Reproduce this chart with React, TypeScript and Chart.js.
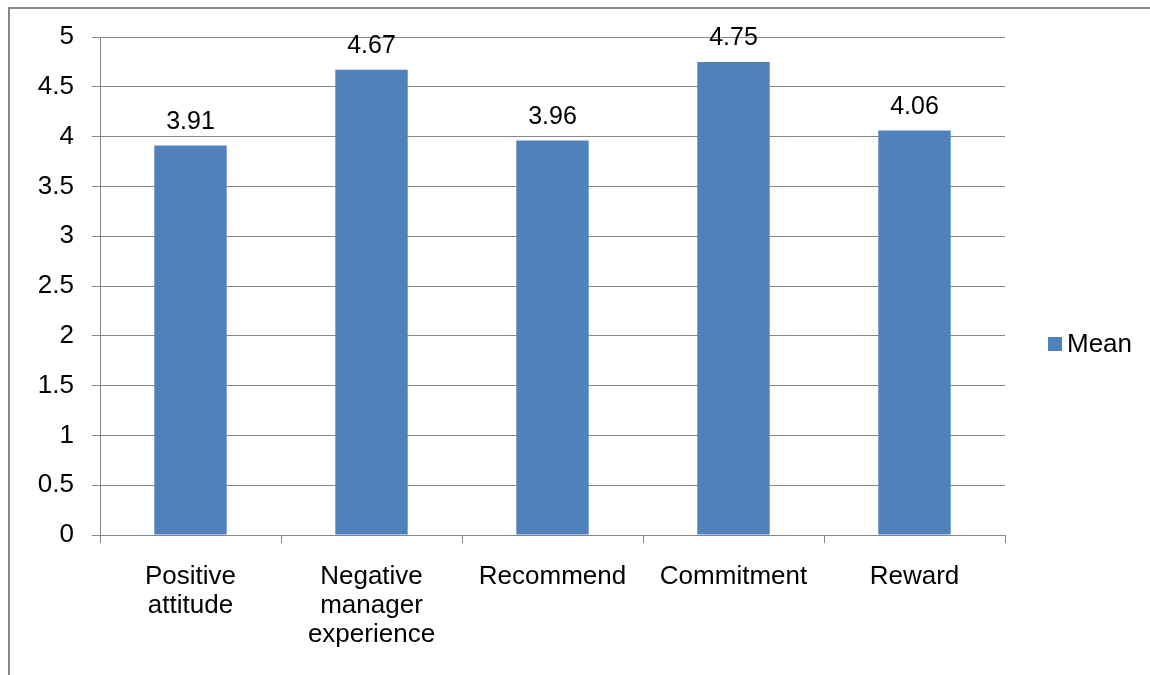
import React, { useEffect, useRef } from "react";
import { Chart, registerables } from "chart.js";

Chart.register(...registerables);

const categories: (string | string[])[] = [
  ["Positive", "attitude"],
  ["Negative", "manager", "experience"],
  "Recommend",
  "Commitment",
  "Reward",
];
const meanValues: number[] = [3.91, 4.67, 3.96, 4.75, 4.06];
const seriesName = "Mean";
const yMin = 0;
const yMax = 5;
const yStep = 0.5;

const FONT = '"Liberation Sans", Arial, sans-serif';
const BAR_COLOR = "#4F81BD";
const GRID_COLOR = "#868686";

const framePlugin = {
  id: "frame",
  beforeDraw(chart: any) {
    const ctx = chart.ctx;
    ctx.save();
    ctx.fillStyle = "#ffffff";
    ctx.fillRect(0, 0, chart.width, chart.height);
    ctx.strokeStyle = "#878787";
    ctx.lineWidth = 2;
    ctx.beginPath();
    ctx.moveTo(9, chart.height + 5);
    ctx.lineTo(9, 8);
    ctx.lineTo(chart.width + 5, 8);
    ctx.stroke();
    ctx.restore();
  },
};

const dataLabelPlugin = {
  id: "dataLabels",
  afterDatasetsDraw(chart: any) {
    const ctx = chart.ctx;
    ctx.save();
    ctx.font = `25px ${FONT}`;
    ctx.fillStyle = "#000000";
    ctx.textAlign = "center";
    ctx.textBaseline = "alphabetic";
    chart.data.datasets.forEach((ds: any, di: number) => {
      const meta = chart.getDatasetMeta(di);
      meta.data.forEach((bar: any, i: number) => {
        ctx.fillText(Number(ds.data[i]).toFixed(2), bar.x, bar.y - 17);
      });
    });
    ctx.restore();
  },
};

const legendPlugin = {
  id: "customLegend",
  afterDraw(chart: any) {
    const ctx = chart.ctx;
    ctx.save();
    const cy = 344;
    ctx.fillStyle = BAR_COLOR;
    ctx.fillRect(1048, cy - 7, 14, 14);
    ctx.fillStyle = "#000000";
    ctx.font = `26px ${FONT}`;
    ctx.textAlign = "left";
    ctx.textBaseline = "middle";
    ctx.fillText(seriesName, 1067, cy + 1);
    ctx.restore();
  },
};

export default function App() {
  const ref = useRef<HTMLCanvasElement | null>(null);
  useEffect(() => {
    if (!ref.current) return;
    const chart = new Chart(ref.current, {
      type: "bar",
      data: {
        labels: categories,
        datasets: [
          {
            label: seriesName,
            data: meanValues,
            backgroundColor: BAR_COLOR,
            borderWidth: 0,
            barPercentage: 0.4,
            categoryPercentage: 1,
          },
        ],
      },
      options: {
        animation: false,
        responsive: false,
        maintainAspectRatio: false,
        layout: { padding: { left: 0, top: 37, right: 145, bottom: 0 } },
        plugins: {
          legend: { display: false },
          tooltip: { enabled: false },
        },
        scales: {
          x: {
            grid: {
              offset: true,
              drawOnChartArea: false,
              drawTicks: true,
              tickLength: 8,
              color: GRID_COLOR,
              lineWidth: 1,
            },
            border: { display: true, color: GRID_COLOR, width: 1 },
            ticks: {
              color: "#000000",
              font: { family: FONT, size: 26, lineHeight: 1.115 },
              padding: 19,
              maxRotation: 0,
              minRotation: 0,
              autoSkip: false,
            },
            afterFit(scale: any) {
              scale.height = 140;
            },
          },
          y: {
            min: yMin,
            max: yMax,
            grid: {
              color: GRID_COLOR,
              lineWidth: 1,
              tickLength: 8,
              drawTicks: true,
            },
            border: { display: true, color: GRID_COLOR, width: 1 },
            ticks: {
              stepSize: yStep,
              color: "#000000",
              font: { family: FONT, size: 26 },
              padding: 18,
              callback: (v: any) => String(Number(v)),
            },
            afterFit(scale: any) {
              scale.width = 100;
            },
          },
        },
      },
      plugins: [framePlugin, dataLabelPlugin, legendPlugin],
    });
    return () => chart.destroy();
  }, []);
  return (
    <div style={{ position: "absolute", left: 0, top: 0, width: 1150, height: 675 }}>
      <canvas ref={ref} width={1150} height={675} style={{ display: "block" }} />
    </div>
  );
}
